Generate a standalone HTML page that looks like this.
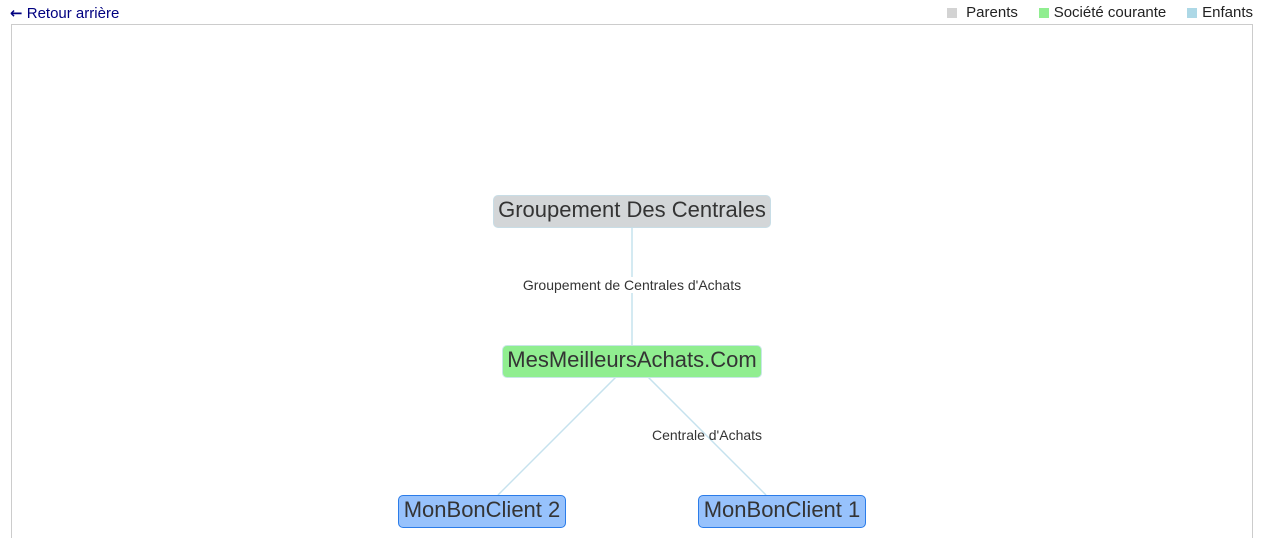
<!DOCTYPE html>
<html style="overflow:hidden;height:538px"><head><meta charset="utf-8"><style>
body{margin:0;width:1267px;height:538px;overflow:hidden;background:#fff;font-family:"Liberation Sans",sans-serif;position:relative}
.a{position:absolute}
.node{position:absolute;box-sizing:border-box;height:33px;border-radius:5px;font-size:22px;line-height:27px;text-align:center;color:#343434}
.lbl{position:absolute;font-size:14px;color:#343434;transform:translate(-50%,-50%);white-space:nowrap;background:#fff}
.sq{display:inline-block;width:10px;height:10px;margin-right:5px;vertical-align:-1px}
</style></head><body>
<div class="a" style="left:10px;top:4px;font-size:15px;color:#000080"><span style="font-family:'DejaVu Sans';font-weight:bold;font-size:15px">←</span> Retour arrière</div>
<div class="a" style="right:14px;top:4px;font-size:15px;color:#222">
<span class="sq" style="background:#d3d3d3"></span> Parents&nbsp;&nbsp;&nbsp;&nbsp; <span class="sq" style="background:#90ee90"></span>Société courante&nbsp;&nbsp;&nbsp;&nbsp; <span class="sq" style="background:#add8e6"></span>Enfants</div>
<div class="a" style="left:11px;top:24px;width:1242px;border:1px solid #ccc;box-sizing:border-box;height:530px"></div>
<svg class="a" style="left:0;top:0" width="1267" height="538">
<g stroke="#c6e2ee" stroke-width="1.5">
<line x1="632" y1="227" x2="632" y2="345"/>
<line x1="616" y1="377" x2="498" y2="495"/>
<line x1="648" y1="377" x2="766" y2="495"/>
</g></svg>
<div class="lbl" style="left:632px;top:285px">Groupement de Centrales d'Achats</div>
<div class="lbl" style="left:707px;top:435px;background:transparent">Centrale d'Achats</div>
<div class="node" style="left:493px;top:195px;width:278px;background:#d3d6d8;border:1px solid #c8dde6">Groupement Des Centrales</div>
<div class="node" style="left:502px;top:345px;width:260px;background:#90ee90;border:1px solid #c8e6e6">MesMeilleursAchats.Com</div>
<div class="node" style="left:398px;top:495px;width:168px;background:#97c2fc;border:1px solid #2b7ce9">MonBonClient 2</div>
<div class="node" style="left:698px;top:495px;width:168px;background:#97c2fc;border:1px solid #2b7ce9">MonBonClient 1</div>
</body></html>
